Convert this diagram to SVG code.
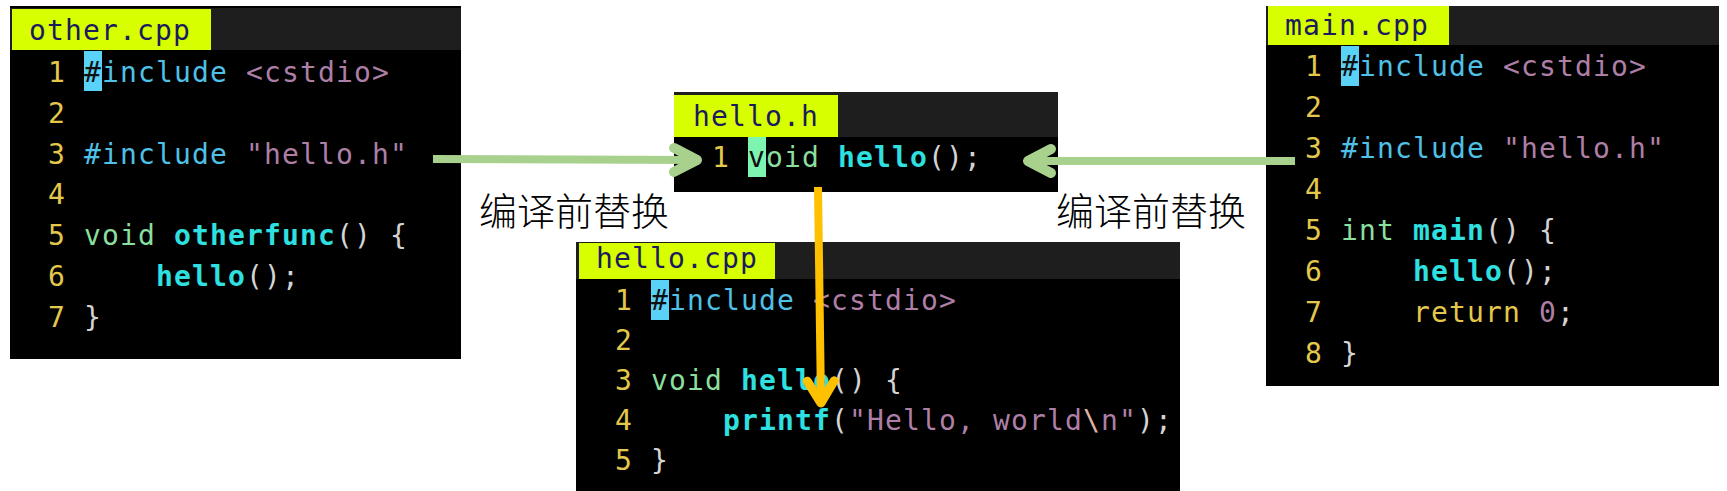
<svg xmlns="http://www.w3.org/2000/svg" width="1727" height="491" viewBox="0 0 1727 491">
<style>
.panel{fill:#000}
.hdr{fill:#1e1e1e}
.tab{fill:#d8ff00}
.tabt{font-family:"DejaVu Sans Mono",monospace;font-size:28px;letter-spacing:1.14px;fill:#1b1b5e}
.c{font-family:"DejaVu Sans Mono",monospace;font-size:28px;letter-spacing:1.14px}
.num{fill:#e3c84b}
.kw{fill:#4fc1e6}
.str{fill:#ad7fa6}
.ty{fill:#8adf9e}
.fn{fill:#2fe0e0;font-weight:bold}
.p{fill:#d4d4d4}
.ret{fill:#e3c84b}
.esc{fill:#e0b4a4}
.dk{fill:#101010}
.hlc{fill:#5ad2f8}
.hlg{fill:#7df5b0}
.lbl{font-family:"Noto Sans CJK SC","Noto Sans",sans-serif;font-size:38px;font-weight:300;fill:#000}
.garrow{stroke:#a9d18e;stroke-width:8;fill:none}
.oarrow{stroke:#ffc000;stroke-width:8;fill:none}
</style>
<defs>
<marker id="mg" markerUnits="userSpaceOnUse" orient="auto" refX="0" refY="0" markerWidth="60" markerHeight="60" viewBox="-35 -30 60 60" overflow="visible">
<path d="M -23 -12 L 0 0 L -23 12" fill="none" stroke="#a9d18e" stroke-width="10" stroke-linecap="round" stroke-linejoin="round"/>
</marker>
<marker id="mo" markerUnits="userSpaceOnUse" orient="auto" refX="0" refY="0" markerWidth="60" markerHeight="60" viewBox="-35 -30 60 60" overflow="visible">
<path d="M -22 -13.5 L 0 0 L -22 13.5" fill="none" stroke="#ffc000" stroke-width="9" stroke-linecap="round" stroke-linejoin="round"/>
</marker>
</defs>
<rect x="0" y="0" width="1727" height="491" fill="#fff"/>

<g id="node-other">
<rect class="panel" x="10" y="6" width="451" height="353"/>
<rect class="hdr" x="10" y="8" width="451" height="42"/>
<rect class="tab" x="12" y="9" width="199" height="41"/>
<text class="tabt" x="29" y="40">other.cpp</text>
<rect class="hlc" x="84" y="51" width="18" height="40"/>
<text class="c num" x="48" y="82">1</text>
<text class="c" y="82"><tspan class="dk" x="84">#</tspan><tspan class="kw" x="102">include</tspan><tspan class="str" x="246">&lt;cstdio&gt;</tspan></text>
<text class="c num" x="48" y="123">2</text>
<text class="c num" x="48" y="164">3</text>
<text class="c" y="164"><tspan class="kw" x="84">#include</tspan><tspan class="str" x="246">"hello.h"</tspan></text>
<text class="c num" x="48" y="204">4</text>
<text class="c num" x="48" y="245">5</text>
<text class="c" y="245"><tspan class="ty" x="84">void</tspan><tspan class="fn" x="174">otherfunc</tspan><tspan class="p" x="336">()</tspan><tspan class="p" x="390">{</tspan></text>
<text class="c num" x="48" y="286">6</text>
<text class="c" y="286"><tspan class="fn" x="156">hello</tspan><tspan class="p" x="246">();</tspan></text>
<text class="c num" x="48" y="327">7</text>
<text class="c p" x="84" y="327">}</text>
</g>

<g id="node-hello-h">
<rect class="panel" x="674" y="92" width="384" height="100"/>
<rect class="hdr" x="674" y="92" width="384" height="45"/>
<rect class="tab" x="674" y="95" width="164" height="42"/>
<text class="tabt" x="693" y="126">hello.h</text>
<rect class="hlg" x="748" y="137" width="18" height="40"/>
<text class="c num" x="712" y="167">1</text>
<text class="c" y="167"><tspan class="dk" x="748">v</tspan><tspan class="ty" x="766">oid</tspan><tspan class="fn" x="838">hello</tspan><tspan class="p" x="928">();</tspan></text>
</g>

<g id="node-hello-cpp">
<rect class="panel" x="576" y="242" width="604" height="249"/>
<rect class="hdr" x="576" y="242" width="604" height="37"/>
<rect class="tab" x="579" y="243" width="196" height="36"/>
<text class="tabt" x="596" y="268">hello.cpp</text>
<rect class="hlc" x="651" y="280" width="18" height="40"/>
<text class="c num" x="615" y="310">1</text>
<text class="c" y="310"><tspan class="dk" x="651">#</tspan><tspan class="kw" x="669">include</tspan><tspan class="str" x="813">&lt;cstdio&gt;</tspan></text>
<text class="c num" x="615" y="350">2</text>
<text class="c num" x="615" y="390">3</text>
<text class="c" y="390"><tspan class="ty" x="651">void</tspan><tspan class="fn" x="741">hello</tspan><tspan class="p" x="831">()</tspan><tspan class="p" x="885">{</tspan></text>
<text class="c num" x="615" y="430">4</text>
<text class="c" y="430"><tspan class="fn" x="723">printf</tspan><tspan class="p" x="831">(</tspan><tspan class="str" x="849">"Hello, world</tspan><tspan class="esc" x="1083">\</tspan><tspan class="str" x="1101">n"</tspan><tspan class="p" x="1137">);</tspan></text>
<text class="c num" x="615" y="470">5</text>
<text class="c p" x="651" y="470">}</text>
</g>

<g id="node-main">
<rect class="panel" x="1266" y="6" width="453" height="380"/>
<rect class="hdr" x="1266" y="6" width="453" height="39"/>
<rect class="tab" x="1268" y="6" width="181" height="39"/>
<text class="tabt" x="1285" y="35">main.cpp</text>
<rect class="hlc" x="1341" y="46" width="18" height="40"/>
<text class="c num" x="1305" y="76">1</text>
<text class="c" y="76"><tspan class="dk" x="1341">#</tspan><tspan class="kw" x="1359">include</tspan><tspan class="str" x="1503">&lt;cstdio&gt;</tspan></text>
<text class="c num" x="1305" y="117">2</text>
<text class="c num" x="1305" y="158">3</text>
<text class="c" y="158"><tspan class="kw" x="1341">#include</tspan><tspan class="str" x="1503">"hello.h"</tspan></text>
<text class="c num" x="1305" y="199">4</text>
<text class="c num" x="1305" y="240">5</text>
<text class="c" y="240"><tspan class="ty" x="1341">int</tspan><tspan class="fn" x="1413">main</tspan><tspan class="p" x="1485">()</tspan><tspan class="p" x="1539">{</tspan></text>
<text class="c num" x="1305" y="281">6</text>
<text class="c" y="281"><tspan class="fn" x="1413">hello</tspan><tspan class="p" x="1503">();</tspan></text>
<text class="c num" x="1305" y="322">7</text>
<text class="c" y="322"><tspan class="ret" x="1413">return</tspan><tspan class="str" x="1539">0</tspan><tspan class="p" x="1557">;</tspan></text>
<text class="c num" x="1305" y="363">8</text>
<text class="c p" x="1341" y="363">}</text>
</g>

<g id="connectors">
<line class="garrow" x1="433" y1="159" x2="697" y2="160" marker-end="url(#mg)"/>
<line class="garrow" x1="1295" y1="161" x2="1028" y2="161" marker-end="url(#mg)"/>
<line class="oarrow" x1="818" y1="187" x2="821" y2="403" marker-end="url(#mo)"/>
</g>

<g id="labels">
<text class="lbl" x="479" y="225">编译前替换</text>
<text class="lbl" x="1056" y="225">编译前替换</text>
</g>
</svg>
